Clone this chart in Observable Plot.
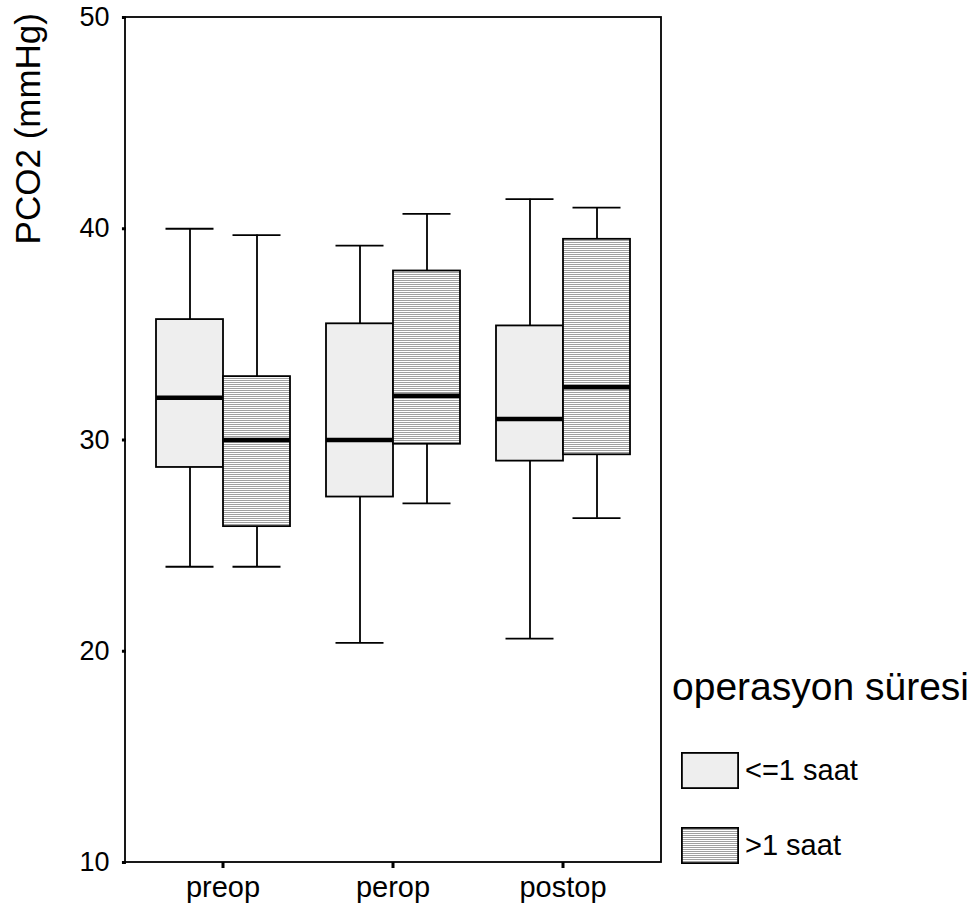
<!DOCTYPE html>
<html>
<head>
<meta charset="utf-8">
<script src="https://cdn.jsdelivr.net/npm/d3@7"></script>
<script src="https://cdn.jsdelivr.net/npm/@observablehq/plot@0.6"></script>
<style>
  html, body { margin: 0; padding: 0; background: #fff; }
  #wrap { position: relative; width: 980px; height: 909px; font-family: "Liberation Sans", Arial, sans-serif; color: #000; }
  #legend-title { position: absolute; left: 672px; top: 667px; font-size: 39px; line-height: 1; white-space: nowrap; }
  .leg-item { position: absolute; left: 681px; display: flex; align-items: center; font-size: 29px; white-space: nowrap; }
  .leg-item svg { display: block; margin-right: 6px; }
</style>
</head>
<body>
<svg width="0" height="0" style="position:absolute">
  <defs>
    <pattern id="hatch" patternUnits="userSpaceOnUse" width="8" height="2">
      <rect x="0" y="0" width="8" height="2" fill="#ffffff"></rect>
      <rect x="0" y="0" width="8" height="1" fill="#a0a0a0"></rect>
    </pattern>
  </defs>
</svg>
<div id="wrap"></div>
<script>
// ---- data ----
const periods = ["preop", "perop", "postop"];
const groups = ["<=1 saat", ">1 saat"];
const legendTitle = "operasyon süresi";
const yLabel = "PCO2 (mmHg)";
const yTicks = [10, 20, 30, 40, 50];
// order: preop(<=1, >1), perop(<=1, >1), postop(<=1, >1)
const lowerWhisker = [24.0, 24.0, 20.4, 27.0, 20.6, 26.3];
const quartile1    = [28.7, 25.9, 27.3, 29.8, 29.0, 29.3];
const medians      = [32.0, 30.0, 30.0, 32.1, 31.0, 32.5];
const quartile3    = [35.7, 33.0, 35.5, 38.0, 35.4, 39.5];
const upperWhisker = [40.0, 39.7, 39.2, 40.7, 41.4, 41.0];

const rows = periods.flatMap((p, i) => groups.map((g, j) => {
  const k = i * groups.length + j;
  return {period: p, group: g, lo: lowerWhisker[k], q1: quartile1[k], med: medians[k], q3: quartile3[k], hi: upperWhisker[k]};
}));

const M = {left: 125, right: 319, top: 17, bottom: 47};
const W = 980, H = 909;
const fills = ["#eeeeee", "url(#hatch)"];
const fxPadInner = 0.205, fxPadOuter = 0.17;
const SW = 1.8;

// offset of the first facet from the plot's left edge (so the y axis sits on the frame)
const fxBand = d3.scaleBand().domain(periods).range([M.left, W - M.right])
  .paddingInner(fxPadInner).paddingOuter(fxPadOuter);
const facetOffset = fxBand(periods[0]) - M.left;

const chart = Plot.plot({
  width: W, height: H,
  marginLeft: M.left, marginRight: M.right, marginTop: M.top, marginBottom: M.bottom,
  style: {fontFamily: '"Liberation Sans", Arial, sans-serif', fontSize: "27px", color: "#000", background: "#fff", overflow: "visible"},
  fx: {domain: periods, paddingInner: fxPadInner, paddingOuter: fxPadOuter, label: null},
  x: {domain: groups, padding: 0, axis: null},
  y: {domain: [10, 50], label: null},
  color: {domain: groups, range: fills},
  marks: [
    Plot.axisY({ticks: yTicks, tickSize: 4, tickPadding: 13, strokeWidth: 3, label: null, dx: -facetOffset}),
    Plot.axisFx({anchor: "bottom", tickSize: 6, tickPadding: 8, strokeWidth: 3, label: null, fontSize: 29}),
    Plot.ruleX(rows, {fx: "period", x: "group", y1: "q3", y2: "hi", stroke: "#000", strokeWidth: SW}),
    Plot.ruleX(rows, {fx: "period", x: "group", y1: "lo", y2: "q1", stroke: "#000", strokeWidth: SW}),
    Plot.tickY(rows, {fx: "period", x: "group", y: "hi", insetLeft: 9.5, insetRight: 9.5, stroke: "#000", strokeWidth: SW}),
    Plot.tickY(rows, {fx: "period", x: "group", y: "lo", insetLeft: 9.5, insetRight: 9.5, stroke: "#000", strokeWidth: SW}),
    Plot.barY(rows, {fx: "period", x: "group", y1: "q1", y2: "q3", fill: "group", stroke: "#000", strokeWidth: SW}),
    Plot.tickY(rows, {fx: "period", x: "group", y: "med", stroke: "#000", strokeWidth: 4.5})
  ]
});

const wrap = document.getElementById("wrap");
wrap.appendChild(chart);

// plot-area frame and rotated y-axis title
const ys = chart.scale("y");
const svg = d3.select(chart);
svg.append("rect")
  .attr("x", M.left).attr("y", Math.min(...ys.range))
  .attr("width", W - M.left - M.right).attr("height", Math.abs(ys.range[0] - ys.range[1]))
  .attr("fill", "none").attr("stroke", "#000").attr("stroke-width", SW);
svg.append("text")
  .attr("transform", "translate(40,13) rotate(-90)")
  .attr("text-anchor", "end")
  .attr("font-size", 35)
  .attr("fill", "#000")
  .text(yLabel);

// legend
const lt = document.createElement("div");
lt.id = "legend-title";
lt.textContent = legendTitle;
wrap.appendChild(lt);
const legendTops = [752, 827];
groups.forEach((g, i) => {
  const item = document.createElement("div");
  item.className = "leg-item";
  item.style.top = legendTops[i] + "px";
  item.innerHTML = `<svg width="58" height="37"><rect x="0.9" y="0.9" width="56.2" height="35.2" fill="${fills[i]}" stroke="#000" stroke-width="${SW}"></rect></svg>`;
  const span = document.createElement("span");
  span.textContent = g;
  item.appendChild(span);
  wrap.appendChild(item);
});
</script>
</body>
</html>
